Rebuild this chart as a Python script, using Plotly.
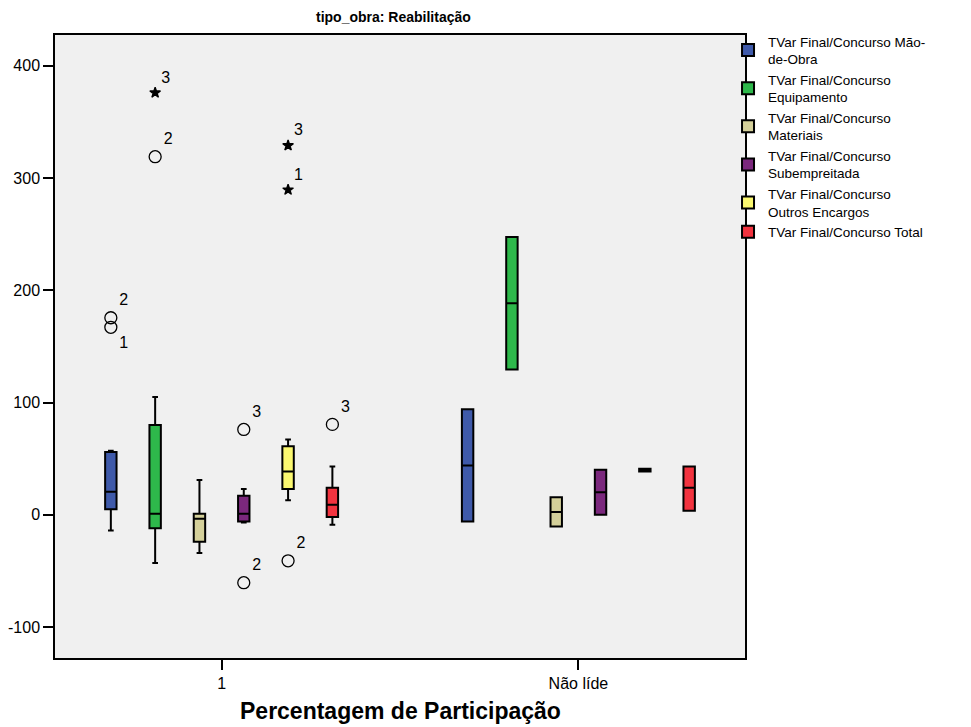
import plotly.graph_objects as go

# Categories on the x axis
categories = ["1", "Não líde"]

# Y axis ticks
y_tick_values = [-100, 0, 100, 200, 300, 400]
y_tick_labels = ["-100", "0", "100", "200", "300", "400"]

# Series (legend order)
series_names = [
    "TVar Final/Concurso Mão-<br>de-Obra",
    "TVar Final/Concurso<br>Equipamento",
    "TVar Final/Concurso<br>Materiais",
    "TVar Final/Concurso<br>Subempreitada",
    "TVar Final/Concurso<br>Outros Encargos",
    "TVar Final/Concurso Total",
]
series_colors = ["#3F5AAA", "#2EB84B", "#D4D09A", "#7B287D", "#FBF870", "#F2333F"]

# Box statistics per series, one value per category ["1", "Não líde"]
q1 = [[5, -6], [-12, 129.5], [-24, -10.5], [-6, 0], [23, 38.5], [-2, 3.5]]
median = [[20.5, 44], [1, 188.5], [-3.5, 2.5], [1, 20], [38.5, 39.5], [9, 24]]
q3 = [[56, 94], [80, 247.5], [1, 15.5], [17, 40], [61, 41], [24, 43]]
lower_fence = [[-14, -6], [-43, 129.5], [-34, -10.5], [-7, 0], [13, 38.5], [-9, 3.5]]
upper_fence = [[57, 94], [105, 247.5], [31, 15.5], [23, 40], [67, 41], [43, 43]]

# Outliers (all in category "1"): series index, value, case label, extreme flag
outlier_series = [0, 0, 1, 1, 3, 3, 4, 4, 4, 5]
outlier_values = [175.5, 167, 319, 376, 76, -60.5, 329, 289.5, -41, 80.5]
outlier_labels = ["2", "1", "2", "3", "3", "2", "3", "1", "2", "3"]
outlier_extreme = [False, False, False, True, False, False, True, True, False, False]
outlier_text_pos = ["top right", "bottom right", "top right", "top right", "top right",
                    "top right", "top right", "top right", "top right", "top right"]

# Layout of clustered boxes within each category
slot = 0.1242
box_width = 0.032
n_series = len(series_names)


def box_pos(cat_idx, s_idx):
    return cat_idx + (s_idx - (n_series - 1) / 2) * slot


FONT = "Liberation Sans, Arial, sans-serif"

fig = go.Figure()

for s in range(n_series):
    xs = [box_pos(c, s) for c in range(len(categories))]
    fig.add_trace(go.Box(
        name=series_names[s],
        x=xs,
        q1=q1[s],
        median=median[s],
        q3=q3[s],
        lowerfence=lower_fence[s],
        upperfence=upper_fence[s],
        width=box_width,
        whiskerwidth=0.5,
        fillcolor=series_colors[s],
        line=dict(color="black", width=2),
        boxpoints=False,
        hoverinfo="skip",
    ))

# Outlier markers with case labels
for kind in (False, True):
    idx = [i for i in range(len(outlier_values)) if outlier_extreme[i] == kind]
    fig.add_trace(go.Scatter(
        x=[box_pos(0, outlier_series[i]) for i in idx],
        y=[outlier_values[i] for i in idx],
        mode="markers+text",
        text=[outlier_labels[i] for i in idx],
        textposition=[outlier_text_pos[i] for i in idx],
        textfont=dict(family=FONT, size=16, color="black"),
        marker=dict(
            symbol="star" if kind else "circle-open",
            size=8 if kind else 12,
            color="black",
            line=dict(color="black", width=1.3),
        ),
        showlegend=False,
        hoverinfo="skip",
        cliponaxis=False,
    ))

fig.update_layout(
    width=971,
    height=727,
    margin=dict(l=55, r=226, t=35, b=69),
    paper_bgcolor="white",
    plot_bgcolor="#F0F0F0",
    boxmode="overlay",
    font=dict(family=FONT, size=16, color="black"),
    legend=dict(
        x=0.9754, y=1.0144, xanchor="left", yanchor="top",
        font=dict(family=FONT, size=13.5, color="black"),
        bgcolor="rgba(0,0,0,0)",
        tracegroupgap=0,
        traceorder="normal",
    ),
    showlegend=True,
)

fig.update_xaxes(
    range=[-0.467, 1.467],
    tickmode="array",
    tickvals=list(range(len(categories))),
    ticktext=categories,
    ticks="outside",
    ticklen=10,
    tickwidth=1.5,
    tickcolor="black",
    showgrid=False,
    zeroline=False,
    showline=True,
    linecolor="black",
    linewidth=1.5,
    mirror=True,
    automargin=False,
    tickfont=dict(family=FONT, size=16),
)

fig.update_yaxes(
    range=[-127.6, 427.4],
    tickmode="array",
    tickvals=y_tick_values,
    ticktext=y_tick_labels,
    ticks="outside",
    ticklen=10,
    tickwidth=1.5,
    tickcolor="black",
    showgrid=False,
    zeroline=False,
    showline=True,
    linecolor="black",
    linewidth=1.5,
    mirror=True,
    automargin=False,
    tickfont=dict(family=FONT, size=16),
)

# Chart title
fig.add_annotation(
    text="<b>tipo_obra: Reabilitação</b>",
    xref="paper", yref="paper",
    x=(393 - 55) / 690, y=1.0,
    yshift=8, yanchor="bottom", xanchor="center",
    showarrow=False,
    font=dict(family=FONT, size=14, color="black"),
)

# X axis title
fig.add_annotation(
    text="<b>Percentagem de Participação</b>",
    xref="paper", yref="paper",
    x=(400 - 55) / 690, y=-53 / 623,
    yanchor="middle", xanchor="center",
    showarrow=False,
    font=dict(family=FONT, size=23, color="black"),
)

fig.write_html("out.html")
